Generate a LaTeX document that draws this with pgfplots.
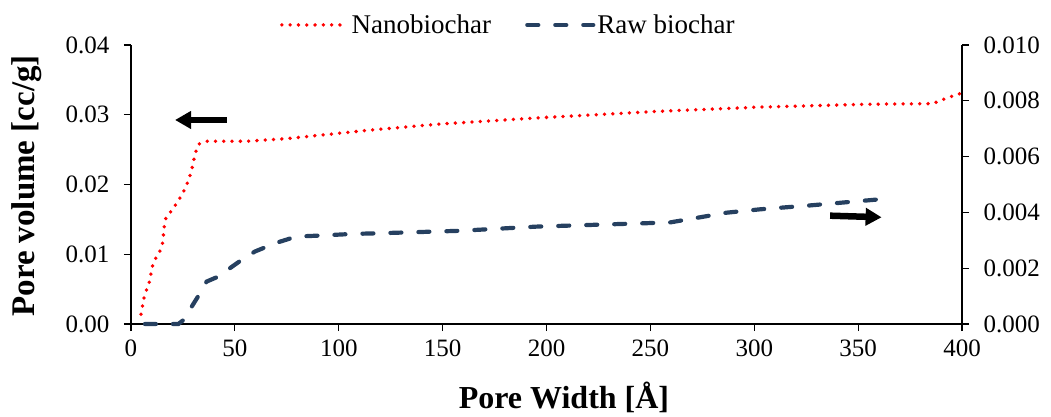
\documentclass[border=0pt]{standalone}
\usepackage{fontspec}
\setmainfont{Liberation Serif}
\usepackage{pgfplots}
\pgfplotsset{compat=1.18}
\usetikzlibrary{arrows.meta}

\definecolor{nanored}{RGB}{255,0,0}
\definecolor{rawnavy}{RGB}{38,64,96}

\pgfplotsset{
  poreaxis/.style={
    scale only axis, width=831pt, height=279pt,
    xmin=0, xmax=400, ymin=0,
    tick align=outside, major tick length=7pt,
    axis line style={line width=1.2pt, black},
    every tick/.style={black, line width=1.2pt},
    tick label style={font=\fontsize{25}{30}\selectfont},
    /pgf/number format/assume math mode=true,
    scaled y ticks=false,
    clip=false,
  },
  nanostyle/.style={nanored, line width=3.8pt, line cap=round, dash pattern=on 0pt off 8.3pt},
  rawstyle/.style={rawnavy, line width=4.2pt, line cap=round, dash pattern=on 11pt off 17pt},
}

\begin{document}
\begin{tikzpicture}
\path[use as bounding box] (-131pt,-92pt) rectangle (920pt,324pt);

% left axis: nanobiochar
\begin{axis}[
  poreaxis,
  axis x line*=bottom, axis y line*=left,
  ymax=0.04,
  xtick={0,50,...,400},
  ytick={0,0.01,0.02,0.03,0.04},
  yticklabel style={xshift=-11pt, /pgf/number format/.cd, fixed, fixed zerofill, precision=2},
  xticklabel style={yshift=-5pt},
  xlabel={\bfseries Pore Width [Å]},
  ylabel={\bfseries Pore volume [cc/g]},
  xlabel style={font=\fontsize{32}{38}\selectfont, at={(axis description cs:0.521,-0.262)}, anchor=center},
  ylabel style={font=\fontsize{33}{38}\selectfont, at={(axis description cs:-0.125,0.495)}, anchor=center},
]
\addplot[nanostyle] coordinates {
(4.8,0.0014) (6.3,0.0038) (7.5,0.0049) (8.8,0.0060) (10.4,0.0084) (12,0.0095)
(14,0.0105) (15.2,0.0116) (16,0.0140) (16.8,0.0152) (19.1,0.0161) (21.5,0.0171)
(23.6,0.0181) (25.5,0.0191) (27.1,0.0202) (28.4,0.0213) (29.5,0.0225) (30.3,0.0236)
(31.3,0.0248) (32.7,0.0258) (36,0.0262) (56,0.0262) (75.7,0.0266) (115,0.0278)
(150,0.0287) (198.5,0.0296) (254.6,0.0305) (302.8,0.0311) (354,0.0315) (386,0.0316)
(392.6,0.0324) (399.8,0.0331)
};
% arrows pointing to the axis each curve belongs to
\draw[black, line width=6.5pt, -{Triangle[length=16pt, width=17pt]}]
  (axis cs:46.2,0.02925) -- (axis cs:21.2,0.02925);
\draw[black, line width=6.5pt, -{Triangle[length=16pt, width=17pt]}]
  (axis cs:336.5,0.01553) -- (axis cs:361.3,0.01530);
\end{axis}

% right axis: raw biochar
\begin{axis}[
  poreaxis,
  axis x line=none, axis y line*=right,
  ymax=0.010,
  ytick={0,0.002,0.004,0.006,0.008,0.010},
  yticklabel style={xshift=11pt, /pgf/number format/.cd, fixed, fixed zerofill, precision=3},
  legend style={
    at={(axis description cs:0.454,1.072)}, anchor=center,
    draw=none, fill=none,
    font=\fontsize{27}{32}\selectfont,
    legend columns=2,
    /tikz/every even column/.append style={column sep=32pt},
  },
  legend image code/.code={\draw[#1] (0pt,0pt) -- (66pt,0pt);},
]
\addlegendimage{nanostyle}
\addlegendentry{Nanobiochar}
\addplot[rawstyle] coordinates {
(6.7,0) (22.8,0) (25.2,0.00014) (29.2,0.00062) (32.7,0.00104) (36.4,0.00152)
(42,0.0017) (47.6,0.0020) (53.3,0.0023) (59.7,0.0026) (65.3,0.00277) (71.7,0.00295)
(78.1,0.0031) (84.6,0.00315) (91,0.00317) (107,0.00323) (118.3,0.00325) (158,0.00334)
(195,0.00349) (259.4,0.00364) (272,0.0038) (286.7,0.00399) (302.7,0.00411)
(326.8,0.00425) (360.5,0.00447)
};
\addlegendentry{Raw biochar}
\end{axis}
\end{tikzpicture}
\end{document}
